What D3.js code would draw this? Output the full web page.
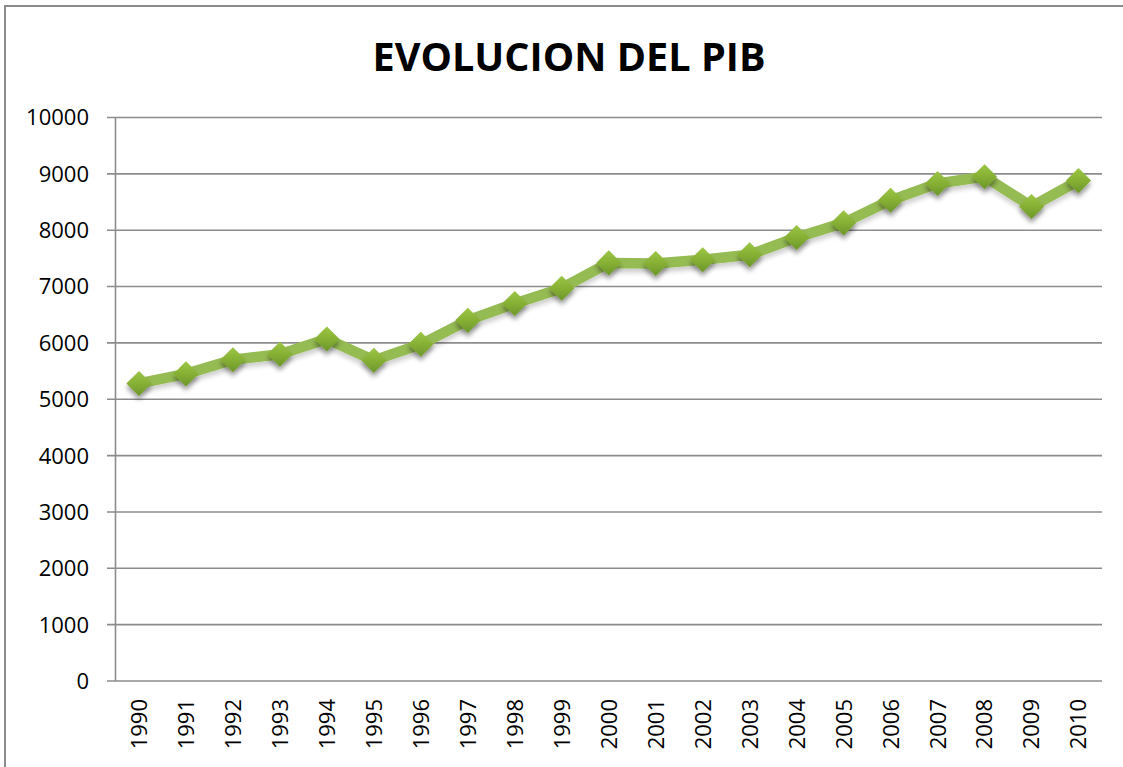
<!DOCTYPE html>
<html>
<head>
<meta charset="utf-8">
<script src="https://cdn.jsdelivr.net/npm/d3@7"></script>
<style>
  html, body { margin: 0; padding: 0; background: #fff; }
  svg { display: block; }
</style>
</head>
<body>
<svg id="chart" width="1123" height="767"></svg>
<script>
const years = ["1990","1991","1992","1993","1994","1995","1996","1997","1998","1999","2000",
               "2001","2002","2003","2004","2005","2006","2007","2008","2009","2010"];
const pib = [5280, 5450, 5700, 5800, 6070, 5690, 5975, 6400, 6700, 6970, 7420,
             7410, 7475, 7565, 7870, 8130, 8530, 8830, 8950, 8420, 8880];
const yTicks = [0, 1000, 2000, 3000, 4000, 5000, 6000, 7000, 8000, 9000, 10000];
const title = "EVOLUCION DEL PIB";

const svg = d3.select("#chart");
const plotL = 115.5, plotR = 1102, plotT = 117.5, plotB = 681;

// outer border
svg.append("rect")
  .attr("x", 5).attr("y", 6).attr("width", 1130).attr("height", 790)
  .attr("fill", "#fff").attr("stroke", "#8c8c8c").attr("stroke-width", 2);

const defs = svg.append("defs");
const grad = defs.append("linearGradient").attr("id", "mk").attr("x1", 0).attr("y1", 0).attr("x2", 0).attr("y2", 1);
grad.append("stop").attr("offset", "0%").attr("stop-color", "#9cc645");
grad.append("stop").attr("offset", "50%").attr("stop-color", "#86b034");
grad.append("stop").attr("offset", "100%").attr("stop-color", "#6c962a");

function shadow(id, blur, dy, alpha) {
  const f = defs.append("filter").attr("id", id).attr("x", "-50%").attr("y", "-50%").attr("width", "200%").attr("height", "200%");
  f.append("feGaussianBlur").attr("in", "SourceAlpha").attr("stdDeviation", blur).attr("result", "b");
  f.append("feOffset").attr("in", "b").attr("dx", 0).attr("dy", dy).attr("result", "o");
  f.append("feComponentTransfer").attr("in", "o").attr("result", "oa")
    .append("feFuncA").attr("type", "linear").attr("slope", alpha);
  const fm = f.append("feMerge");
  fm.append("feMergeNode").attr("in", "oa");
  fm.append("feMergeNode").attr("in", "SourceGraphic");
}
shadow("sh", 2.5, 4, 0.4);
shadow("shl", 2.5, 4, 0.2);

const x = d3.scaleBand().domain(years).range([plotL, plotR]);
const y = d3.scaleLinear().domain([0, 10000]).range([plotB, plotT]);

// gridlines
svg.append("g").selectAll("line").data(yTicks).join("line")
  .attr("x1", plotL - 8.5).attr("x2", plotR)
  .attr("y1", d => y(d)).attr("y2", d => y(d))
  .attr("stroke", "#8c8c8c").attr("stroke-width", 1.6);

// y axis line
svg.append("line").attr("x1", plotL).attr("x2", plotL).attr("y1", plotT).attr("y2", plotB)
  .attr("stroke", "#8c8c8c").attr("stroke-width", 1.6);

const font = "'Open Sans', 'DejaVu Sans', sans-serif";

// y labels
svg.append("g").selectAll("text").data(yTicks).join("text")
  .attr("x", 89).attr("y", d => y(d)).attr("dy", "0.36em")
  .attr("text-anchor", "end")
  .attr("font-family", font).attr("font-size", 22).attr("fill", "#000")
  .text(d => d);

// x labels
svg.append("g").selectAll("text").data(years).join("text")
  .attr("transform", d => `translate(${x(d) + x.bandwidth() / 2},699) rotate(-90)`)
  .attr("text-anchor", "end").attr("dy", "0.36em")
  .attr("font-family", font).attr("font-size", 22).attr("fill", "#000")
  .text(d => d);

// title
svg.append("text")
  .attr("x", 569).attr("y", 71)
  .attr("text-anchor", "middle")
  .attr("font-family", font).attr("font-weight", "bold").attr("font-size", 39)
  .attr("textLength", 393).attr("lengthAdjust", "spacingAndGlyphs")
  .attr("fill", "#000")
  .text(title);

// line
const line = d3.line().x((d, i) => x(years[i]) + x.bandwidth() / 2).y(d => y(d));
svg.append("path").datum(pib)
  .attr("d", line)
  .attr("fill", "none").attr("stroke", "#95bb52").attr("stroke-width", 10.5)
  .attr("stroke-linejoin", "round").attr("filter", "url(#shl)");

// markers
const sym = d3.symbol().type(d3.symbolDiamond2).size(400);
svg.append("g").selectAll("path").data(pib).join("path")
  .attr("transform", (d, i) => `translate(${x(years[i]) + x.bandwidth() / 2},${y(d)})`)
  .attr("d", sym)
  .attr("fill", "url(#mk)").attr("filter", "url(#sh)");
</script>
</body>
</html>
